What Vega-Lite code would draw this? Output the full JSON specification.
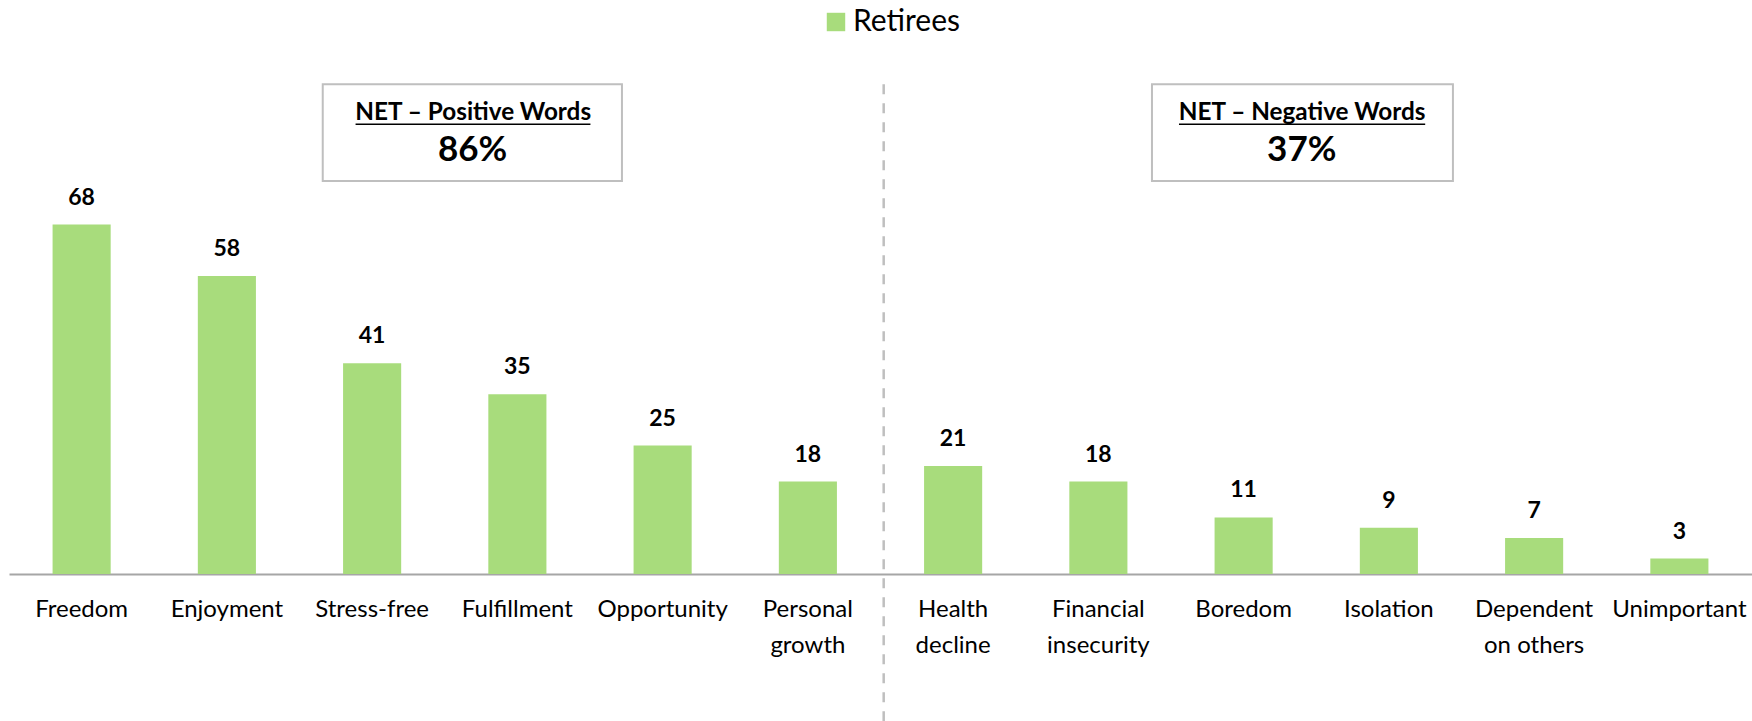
{
  "$schema": "https://vega.github.io/schema/vega-lite/v6.json",
  "width": 1743,
  "height": 574,
  "autosize": {"type": "none"},
  "padding": {"left": 9, "top": 0, "right": 0, "bottom": 147},
  "background": "white",
  "config": {
    "view": {"stroke": null},
    "font": "Lato",
    "text": {"font": "Lato", "color": "#000000"}
  },
  "resolve": {"scale": {"x": "independent"}},
  "layer": [
    {
      "data": {
        "values": [
          {"word": "Freedom", "pct": 68, "series": "Retirees"},
          {"word": "Enjoyment", "pct": 58, "series": "Retirees"},
          {"word": "Stress-free", "pct": 41, "series": "Retirees"},
          {"word": "Fulfillment", "pct": 35, "series": "Retirees"},
          {"word": "Opportunity", "pct": 25, "series": "Retirees"},
          {"word": "Personal growth", "pct": 18, "series": "Retirees"},
          {"word": "Health decline", "pct": 21, "series": "Retirees"},
          {"word": "Financial insecurity", "pct": 18, "series": "Retirees"},
          {"word": "Boredom", "pct": 11, "series": "Retirees"},
          {"word": "Isolation", "pct": 9, "series": "Retirees"},
          {"word": "Dependent on others", "pct": 7, "series": "Retirees"},
          {"word": "Unimportant", "pct": 3, "series": "Retirees"}
        ]
      },
      "encoding": {
        "x": {
          "field": "word",
          "type": "nominal",
          "sort": null,
          "scale": {"paddingInner": 0.6, "paddingOuter": 0.3},
          "axis": {
            "title": null,
            "domainColor": "#a6a6a6",
            "domainWidth": 2,
            "ticks": false,
            "labelAngle": 0,
            "labelFont": "Lato",
            "labelFontSize": 24,
            "labelColor": "#000000",
            "labelPadding": 23,
            "labelBaseline": "top",
            "labelLineHeight": 36,
            "labelOverlap": false,
            "labelLimit": 0,
            "labelBound": false,
            "labelExpr": "indexof(datum.label, ' ') > 0 ? [substring(datum.label, 0, indexof(datum.label, ' ')), substring(datum.label, indexof(datum.label, ' ') + 1)] : datum.label"
          }
        },
        "y": {
          "field": "pct",
          "type": "quantitative",
          "scale": {"domain": [0, 111.7], "nice": false},
          "axis": null
        }
      },
      "layer": [
        {
          "mark": {"type": "bar"},
          "encoding": {
            "color": {
              "field": "series",
              "type": "nominal",
              "scale": {"range": ["#a8dc7c"]},
              "legend": {
                "orient": "none",
                "legendX": 812,
                "legendY": 7,
                "title": null,
                "symbolType": "square",
                "symbolSize": 340,
                "symbolStrokeWidth": 0,
                "labelFont": "Lato",
                "labelFontSize": 30,
                "labelColor": "#000000",
                "labelOffset": 2,
                "padding": 0
              }
            }
          }
        },
        {
          "mark": {"type": "text", "fontSize": 23, "fontWeight": "bold", "baseline": "alphabetic", "dy": -20, "font": "Lato"},
          "encoding": {"text": {"field": "pct", "type": "quantitative"}}
        }
      ]
    },
    {
      "data": {"values": [{}]},
      "layer": [
        {
          "mark": {"type": "rule", "color": "#bfbfbf", "strokeWidth": 2.5, "strokeDash": [10, 9]},
          "encoding": {
            "x": {"datum": 6.022, "type": "quantitative", "scale": {"domain": [0, 12], "nice": false, "zero": false}, "axis": null},
            "y": {"datum": 95.3, "type": "quantitative"},
            "y2": {"datum": -28.6}
          }
        },
        {
          "mark": {"type": "rect", "fill": "white", "stroke": "#bfbfbf", "strokeWidth": 2},
          "encoding": {
            "x": {"datum": 2.16, "type": "quantitative"},
            "x2": {"datum": 4.22},
            "y": {"datum": 95.3, "type": "quantitative"},
            "y2": {"datum": 76.5}
          }
        },
        {
          "mark": {"type": "rect", "fill": "white", "stroke": "#bfbfbf", "strokeWidth": 2},
          "encoding": {
            "x": {"datum": 7.869, "type": "quantitative"},
            "x2": {"datum": 9.941},
            "y": {"datum": 95.3, "type": "quantitative"},
            "y2": {"datum": 76.5}
          }
        },
        {
          "mark": {"type": "text", "text": "NET – Positive Words", "fontSize": 24.3, "fontWeight": "bold", "baseline": "alphabetic", "align": "center", "font": "Lato"},
          "encoding": {
            "x": {"datum": 3.196, "type": "quantitative"},
            "y": {"datum": 88.3, "type": "quantitative"}
          }
        },
        {
          "mark": {"type": "rule", "color": "#000000", "strokeWidth": 1.5},
          "encoding": {
            "x": {"datum": 2.386, "type": "quantitative"},
            "x2": {"datum": 4.003},
            "y": {"datum": 87.5, "type": "quantitative"}
          }
        },
        {
          "mark": {"type": "text", "text": "86%", "fontSize": 35, "fontWeight": "bold", "baseline": "alphabetic", "align": "center", "font": "Lato"},
          "encoding": {
            "x": {"datum": 3.192, "type": "quantitative"},
            "y": {"datum": 80.3, "type": "quantitative"}
          }
        },
        {
          "mark": {"type": "text", "text": "NET – Negative Words", "fontSize": 24.3, "fontWeight": "bold", "baseline": "alphabetic", "align": "center", "font": "Lato"},
          "encoding": {
            "x": {"datum": 8.903, "type": "quantitative"},
            "y": {"datum": 88.3, "type": "quantitative"}
          }
        },
        {
          "mark": {"type": "rule", "color": "#000000", "strokeWidth": 1.5},
          "encoding": {
            "x": {"datum": 8.055, "type": "quantitative"},
            "x2": {"datum": 9.75},
            "y": {"datum": 87.5, "type": "quantitative"}
          }
        },
        {
          "mark": {"type": "text", "text": "37%", "fontSize": 35, "fontWeight": "bold", "baseline": "alphabetic", "align": "center", "font": "Lato"},
          "encoding": {
            "x": {"datum": 8.9, "type": "quantitative"},
            "y": {"datum": 80.3, "type": "quantitative"}
          }
        }
      ]
    }
  ]
}
